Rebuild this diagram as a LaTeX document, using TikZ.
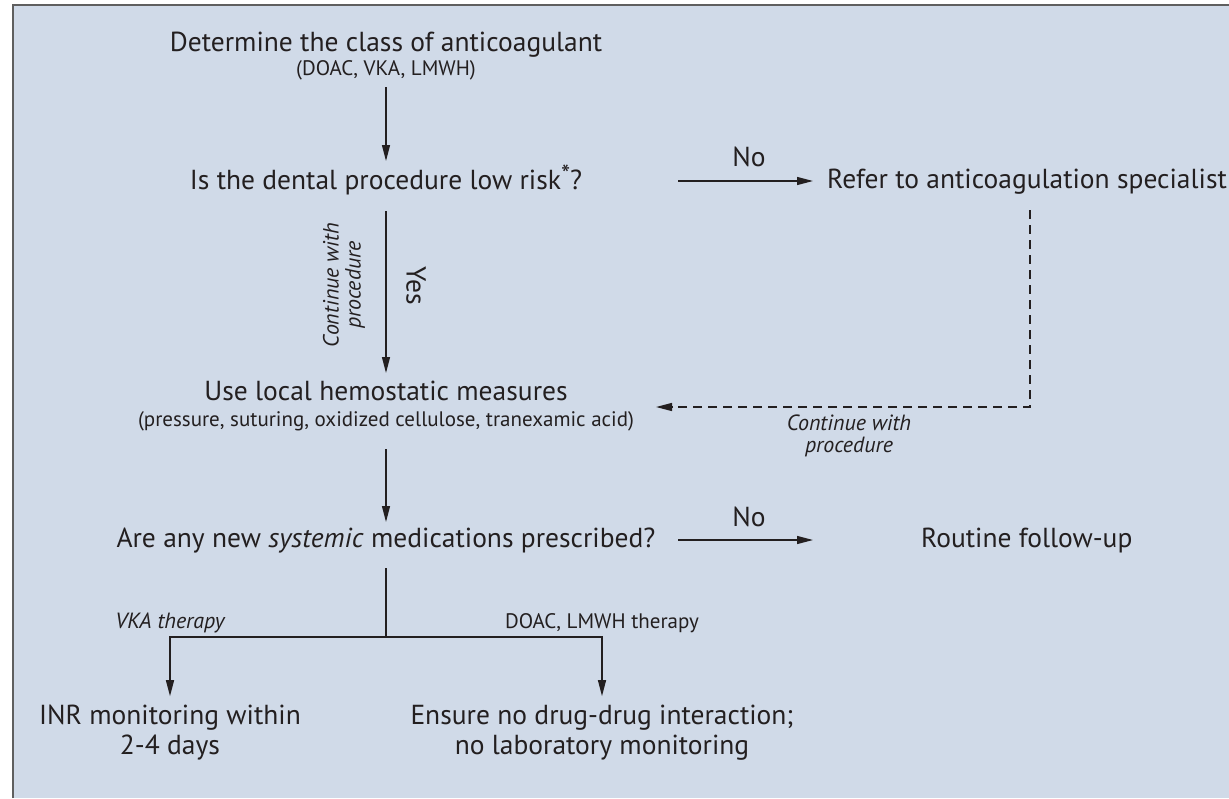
\documentclass[tikz,border=0pt]{standalone}
\usepackage{fontspec}
\setmainfont{PT Sans}
\usetikzlibrary{arrows.meta,calc}

\definecolor{panelbg}{RGB}{208,218,232}
\definecolor{inkdark}{RGB}{35,31,32}
\definecolor{framegray}{RGB}{95,95,95}

\begin{document}
\begin{tikzpicture}[x=1pt,y=-1pt,
  big/.style={font=\fontsize{27.5}{30}\selectfont, text=inkdark, inner sep=0pt, anchor=base},
  small/.style={font=\fontsize{21}{24}\selectfont, text=inkdark, inner sep=0pt, anchor=base},
  note/.style={font=\fontsize{22}{22}\selectfont\itshape, text=inkdark, inner sep=0pt, align=center},
  arr/.style={-{Triangle[length=16pt,width=8pt]}, line width=1.3pt, draw=inkdark},
  dasharr/.style={arr, dash pattern=on 9pt off 6pt},
  link/.style={line width=1.3pt, draw=inkdark}]

  % --- panel ---
  \useasboundingbox (0,0) rectangle (1229,798);
  \fill[panelbg] (13,5) rectangle (1229,798);
  \draw[framegray, line width=1.5pt] (13,798) -- (13,5) -- (1229,5);

  % --- boxes of text ---
  \node[big] (cls) at (386,51) {Determine the class of anticoagulant};
  \node[small] (clssub) at (386,75) {(DOAC, VKA, LMWH)};
  \node[big] (risk) at (386,189) {Is the dental procedure low risk\raisebox{6pt}{\fontsize{26}{26}\selectfont *}?};
  \node[big, anchor=base west] (refer) at (827,188) {Refer to anticoagulation specialist};
  \node[big] (hemo) at (386,400) {Use local hemostatic measures};
  \node[small] (hemosub) at (386,426) {(pressure, suturing, oxidized cellulose, tranexamic acid)};
  \node[big] (meds) at (386,547) {Are any new \textit{systemic} medications prescribed?};
  \node[big, anchor=base west] (routine) at (921,547) {Routine follow-up};
  \node[big, anchor=center, align=center] (inr) at (170,733) {INR monitoring within\\2-4 days};
  \node[big, anchor=center, align=center] (ensure) at (602,733) {Ensure no drug-drug interaction;\\no laboratory monitoring};

  % --- labels ---
  \node[big] (noA) at (749,166) {No};
  \node[big] (noB) at (749,526) {No};
  \node[note, rotate=90] (contA) at (344,285) {Continue with\\procedure};
  \node[big, anchor=center, rotate=-90] (yes) at (416,286) {Yes};
  \node[note] (contB) at (849,436) {Continue with\\procedure};
  \node[note, anchor=base] (vka) at (170,628) {VKA therapy};
  \node[small] (doac) at (602,628) {DOAC, LMWH therapy};

  % --- connectors ---
  \coordinate (noAfrom) at (678,181);
  \coordinate (noBfrom) at (678,540);
  \coordinate (noBto) at (813,540);
  \coordinate (split) at (386,637);
  \coordinate (dashcorner) at (1030,407);
  \coordinate (backin) at (656,407);

  \draw[arr] ($(clssub.base)+(0,12)$) -- ($(risk.base)+(0,-28)$);
  \draw[arr, shorten >=14pt] (noAfrom) -- (refer.west |- noAfrom);
  \draw[arr] ($(risk.base)+(0,22)$) -- ($(hemo.base)+(0,-27)$);
  \draw[dasharr] ($(refer.base -| dashcorner)+(0,22)$) -- (dashcorner) -- (backin);
  \draw[arr] ($(hemosub.base)+(0,23)$) -- ($(meds.base)+(0,-25)$);
  \draw[arr] (noBfrom) -- (noBto);
  \draw[link] ($(meds.base)+(0,21)$) -- (split);
  \draw[arr, shorten >=9pt] (split) -| (inr.north);
  \draw[arr, shorten >=9pt] (split) -| (ensure.north);

\end{tikzpicture}
\end{document}
